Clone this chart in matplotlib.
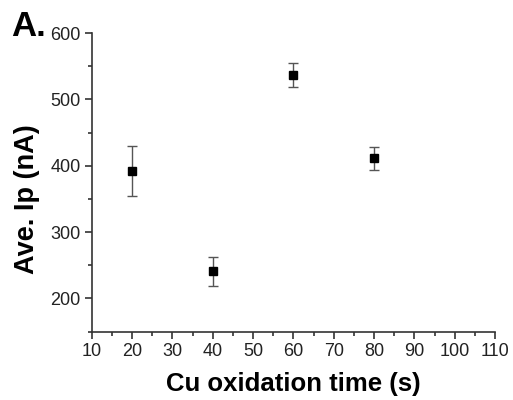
import matplotlib.pyplot as plt
from matplotlib.ticker import MultipleLocator

plt.rcParams['font.family'] = ['Liberation Sans', 'DejaVu Sans']

# Cu oxidation time (s) vs average peak current
time_s = [20, 40, 60, 80]
ip_nA = [392, 241, 537, 411]
ip_err = [38, 22, 18, 17]

fig = plt.figure(figsize=(5.13, 4.0), dpi=100)
ax = fig.add_axes([0.179, 0.171, 0.786, 0.7465])

ax.errorbar(time_s, ip_nA, yerr=ip_err, fmt='s', color='black', ms=5.5,
            ecolor='#555555', elinewidth=1, capsize=3.5, capthick=1)

ax.set_xlim(10, 110)
ax.set_ylim(150, 600)
ax.xaxis.set_major_locator(MultipleLocator(10))
ax.xaxis.set_minor_locator(MultipleLocator(5))
ax.yaxis.set_major_locator(MultipleLocator(100))
ax.yaxis.set_minor_locator(MultipleLocator(50))

for s in ['top', 'right']:
    ax.spines[s].set_visible(False)
for s in ['left', 'bottom']:
    ax.spines[s].set_color('#333333')
    ax.spines[s].set_linewidth(1.2)

ax.tick_params(which='major', direction='out', length=5, width=1.2, pad=3,
               labelsize=13, colors='#333333', labelcolor='#222222')
ax.tick_params(which='minor', direction='out', length=3, width=1.2, colors='#333333')

ax.set_xlabel('Cu oxidation time (s)', fontsize=18.5, fontweight='bold', labelpad=9)
ax.set_ylabel('Ave. Ip (nA)', fontsize=19.5, fontweight='bold')
ax.yaxis.set_label_coords(-0.128, 0.445)

fig.text(0.022, 0.975, 'A.', fontsize=25, fontweight='bold', va='top', ha='left')

fig.savefig('out.png', dpi=100)
